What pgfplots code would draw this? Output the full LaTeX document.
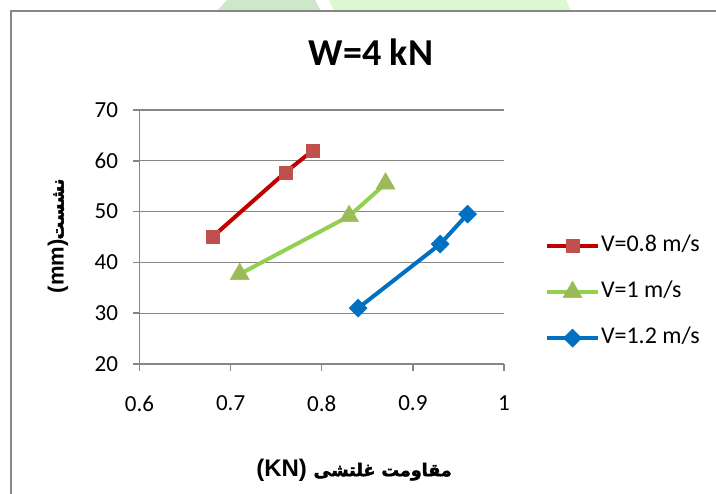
\documentclass[border=0pt]{standalone}
\usepackage{fontspec}
\usepackage{pgfplots}
\pgfplotsset{compat=1.18}
\setmainfont{Carlito}
\newfontfamily\arabicfont[Script=Arabic, FakeBold=2.5]{DejaVu Sans}
\newfontfamily\arialfont{Liberation Sans}
\TeXXeTstate=1
\definecolor{axgray}{RGB}{134,134,134}
\definecolor{gridgray}{RGB}{134,134,134}
\definecolor{redline}{RGB}{192,0,0}
\definecolor{redmark}{RGB}{192,80,77}
\definecolor{greenline}{RGB}{146,208,80}
\definecolor{greenmark}{RGB}{155,187,89}
\definecolor{blueline}{RGB}{0,112,192}
\definecolor{wmdark}{RGB}{205,232,200}
\definecolor{wmlight}{RGB}{220,248,208}
\begin{document}
\begin{tikzpicture}
% watermark remnants above the frame
\fill[wmdark] (217pt,483pt) -- (227pt,494pt) -- (315pt,494pt) -- (321pt,483pt) -- cycle;
\fill[wmlight] (334pt,483pt) -- (329pt,494pt) -- (566pt,494pt) -- (571pt,483pt) -- cycle;
\begin{axis}[
  at={(139.5pt,130pt)}, anchor=south west,
  scale only axis, width=364.5pt, height=254pt,
  xmin=0.6, xmax=1, ymin=20, ymax=70,
  axis lines*=left,
  axis line style={axgray, line width=1.5pt},
  xtick={0.6,0.7,0.8,0.9,1}, xticklabels={0.6,0.7,0.8,0.9,1},
  ytick={20,30,40,50,60,70}, yticklabels={20,30,40,50,60,70},
  tick align=outside, major tick length=7pt,
  tick style={axgray, line width=1.5pt},
  ymajorgrids, grid style={gridgray, line width=1.2pt},
  tick label style={font=\fontsize{23}{27}\selectfont, black},
  xticklabel style={yshift=-21pt},
  yticklabel style={xshift=-11pt},
  clip=false,
  legend style={at={(axis description cs:1.112,0.283)}, anchor=west, draw=none, fill=none,
    font=\fontsize{24}{28}\selectfont, row sep=23pt, inner sep=0pt,
    nodes={inner sep=1pt, text height=16pt, text depth=5pt}},
  legend cell align=left,
  legend image code/.code={\draw[mark repeat=2,mark phase=2,#1] plot coordinates {(0pt,0pt) (25.5pt,0pt) (51pt,0pt)};},
  line join=round,
]
\addplot[redline, line width=4pt, mark=square*, mark size=6.5pt,
  mark options={fill=redmark, draw=redmark, line width=0.5pt}]
  coordinates {(0.68,45) (0.76,57.7) (0.79,62)};
\addlegendentry{V=0.8 m/s}
\addplot[greenline, line width=4pt, mark=triangle*, mark size=11pt,
  mark options={fill=greenmark, draw=greenmark, line width=0.5pt}]
  coordinates {(0.71,37.7) (0.83,49.1) (0.87,55.5)};
\addlegendentry{V=1 m/s}
\addplot[blueline, line width=4pt, mark=square*, mark size=6.4pt,
  mark options={fill=blueline, draw=blueline, line width=0.5pt, rotate=45}]
  coordinates {(0.84,31) (0.93,43.6) (0.96,49.5)};
\addlegendentry{V=1.2 m/s}
\end{axis}
\node at (371pt,442pt) {\fontsize{38}{44}\selectfont\bfseries W=4 kN};
\node at (354pt,24pt) {\fontsize{24}{26}\selectfont\arialfont\bfseries (KN) {\fontsize{17.5}{24}\selectfont\arabicfont\beginR مقاومت غلتشی\endR}};
\node[rotate=90] at (58pt,258pt) {\fontsize{22}{26}\selectfont\arialfont\bfseries (mm){\fontsize{17.5}{24}\selectfont\arabicfont\beginR نشست\endR}};
\draw[axgray, line width=2pt] (11pt,-20pt) -- (11pt,483.3pt) -- (740pt,483.3pt);
\pgfresetboundingbox
\path[use as bounding box] (0pt,0pt) rectangle (716pt,494pt);
\end{tikzpicture}
\end{document}
